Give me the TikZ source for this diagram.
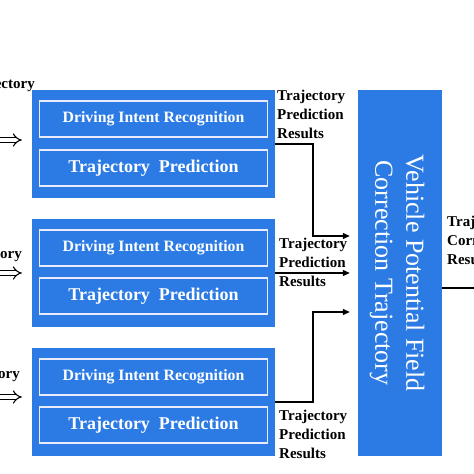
\documentclass[tikz,border=0pt]{standalone}
\usepackage{fontspec}
\setmainfont{Liberation Serif}
\usepackage{tikz}
\usetikzlibrary{arrows.meta,positioning,calc}
\definecolor{blockblue}{RGB}{44,123,229}

\begin{document}
\begin{tikzpicture}[
    x=1pt, y=-1pt,
    block/.style={rectangle, fill=blockblue, minimum width=243pt, minimum height=108pt, inner sep=0pt},
    inbox/.style={rectangle, draw=blue!8!white, line width=1.4pt, fill=blockblue, minimum width=228pt, minimum height=36pt, text=white, inner sep=0pt},
    bigbox/.style={rectangle, fill=blockblue, minimum width=84pt, minimum height=366pt, inner sep=0pt},
    result/.style={anchor=north west, align=left, inner sep=0pt, font=\fontsize{15}{18.7}\selectfont\bfseries},
    arrow/.style={line width=1.2pt, -{Triangle[length=7pt, width=6pt]}},
    line/.style={line width=1.2pt},
    input/.style={double, double distance=3.5pt, line width=1.1pt, -{Implies[]}}
]
    \useasboundingbox (0,0) rectangle (474,474);
    \clip (0,0) rectangle (474,474);

    % Three prediction blocks
    \node[block] (blk1) at (153.5,144) {};
    \node[block] (blk2) at (153.5,273) {};
    \node[block] (blk3) at (153.5,402) {};

    \node[inbox, font=\fontsize{15.8}{17}\selectfont\bfseries] (dir1) at ($(blk1)+(0,-25)$) {Driving Intent Recognition};
    \node[inbox, font=\fontsize{18}{20}\selectfont\bfseries] (tp1)  at ($(blk1)+(0,24)$) {Trajectory\ \ Prediction};
    \node[inbox, font=\fontsize{15.8}{17}\selectfont\bfseries] (dir2) at ($(blk2)+(0,-25)$) {Driving Intent Recognition};
    \node[inbox, font=\fontsize{18}{20}\selectfont\bfseries] (tp2)  at ($(blk2)+(0,23)$) {Trajectory\ \ Prediction};
    \node[inbox, font=\fontsize{15.8}{17}\selectfont\bfseries] (dir3) at ($(blk3)+(0,-25)$) {Driving Intent Recognition};
    \node[inbox, font=\fontsize{18}{20}\selectfont\bfseries] (tp3)  at ($(blk3)+(0,23)$) {Trajectory\ \ Prediction};

    % Correction block
    \node[bigbox] (vpf) at (400,273) {};
    \node[text=white, rotate=-90, align=center, font=\fontsize{26}{31}\selectfont] (vpftext) at ($(vpf.center)+(-3,0)$) {Vehicle Potential Field\\Correction Trajectory};

    % Inputs on the left (cut by the page edge)
    \node[anchor=base east, inner sep=0pt, font=\fontsize{15}{16}\selectfont\bfseries] (hist1) at (35,88) {Trajectory};
    \node[anchor=base east, inner sep=0pt, font=\fontsize{15}{16}\selectfont\bfseries] (hist2) at (22,258) {Trajectory};
    \node[anchor=base east, inner sep=0pt, font=\fontsize{15}{16}\selectfont\bfseries] (hist3) at (20,378) {Trajectory};
    \coordinate (src1) at (-6,140);
    \coordinate (src2) at (-6,273);
    \coordinate (src3) at (-6,397);
    \draw[input] (src1) -- ($(blk1.west |- src1)+(-10,0)$);
    \draw[input] (src2) -- ($(blk2.west |- src2)+(-10,0)$);
    \draw[input] (src3) -- ($(blk3.west |- src3)+(-10,0)$);

    % Prediction results
    \node[result] (res1) at (277,90) {Trajectory\\Prediction\\Results};
    \node[result] (res2) at (279,238) {Trajectory\\Prediction\\Results};
    \node[result] (res3) at (279,410) {Trajectory\\Prediction\\Results};

    \coordinate (bend1) at (313,236);
    \coordinate (bend3) at (313,312);
    \draw[arrow] (blk1.east) -| (bend1) -- ($(vpf.west |- bend1)+(-8,0)$);
    \draw[arrow] (blk2.east) -- ($(vpf.west)+(-8,0)$);
    \draw[arrow] (blk3.east) -| (bend3) -- ($(vpf.west |- bend3)+(-8,0)$);

    % Output on the right (cut by the page edge)
    \node[result] (res4) at (447,216) {Trajectory\\Correction\\Results};
    \coordinate (out) at (490,288);
    \draw[arrow] (vpf.east |- out) -- (out);

\end{tikzpicture}
\end{document}
